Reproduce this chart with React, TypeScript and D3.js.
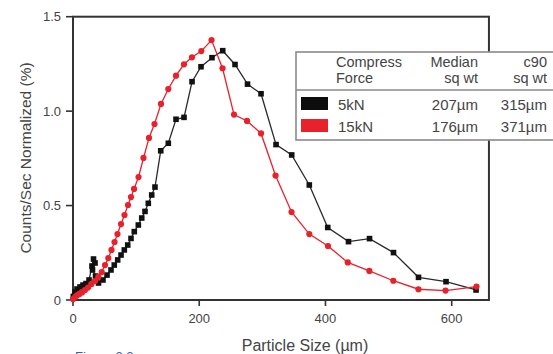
import React from "react";
import * as d3 from "d3";

const xTicks = [0, 200, 400, 600];
const yTicks = [0, 0.5, 1.0, 1.5];
const yTickLabels = ["0", "0.5", "1.0", "1.5"];

const redX = [0, 3.2, 6.3, 10.3, 14.3, 19.0, 23.8, 29.3, 34.9, 40.1, 45.5, 50.7, 55.9, 61.0, 65.8, 70.5, 76.1, 81.6, 87.1, 91.9, 96.7, 103.8, 111.7, 120.4, 129.1, 139.4, 151.0, 163.2, 175.8, 188.5, 203.3, 219.5, 236.9, 255.1, 275.7, 297.9, 320.9, 346.2, 374.4, 404.0, 435.3, 469.5, 507.5, 547.4, 590.2, 639.3];
const redY = [0.005, 0.016, 0.024, 0.032, 0.040, 0.053, 0.066, 0.085, 0.101, 0.122, 0.148, 0.185, 0.222, 0.265, 0.307, 0.349, 0.402, 0.450, 0.503, 0.545, 0.588, 0.651, 0.752, 0.858, 0.932, 1.038, 1.117, 1.188, 1.248, 1.285, 1.318, 1.376, 1.227, 0.982, 0.948, 0.882, 0.659, 0.466, 0.349, 0.286, 0.199, 0.154, 0.102, 0.057, 0.050, 0.071];

const blackX = [0.5, 3.2, 6.3, 11.1, 15.8, 20.6, 25.4, 30.1, 32.5, 34.9, 30.9, 35.7, 40.4, 47.5, 53.9, 60.2, 65.4, 70.8, 76.1, 81.3, 86.7, 91.9, 97.1, 103.5, 108.9, 114.1, 119.3, 124.7, 129.9, 139.0, 151.0, 163.2, 175.9, 188.6, 202.8, 220.2, 237.2, 256.7, 276.5, 297.9, 321.7, 346.5, 374.4, 403.6, 436.5, 469.8, 507.8, 547.4, 591.0, 638.6];
const blackY = [0.019, 0.042, 0.058, 0.069, 0.079, 0.087, 0.106, 0.180, 0.217, 0.196, 0.159, 0.127, 0.090, 0.106, 0.132, 0.159, 0.185, 0.212, 0.238, 0.265, 0.291, 0.326, 0.362, 0.397, 0.434, 0.469, 0.512, 0.556, 0.598, 0.790, 0.830, 0.957, 0.967, 1.156, 1.235, 1.283, 1.320, 1.247, 1.143, 1.092, 0.823, 0.768, 0.609, 0.384, 0.309, 0.325, 0.251, 0.120, 0.097, 0.053];

const legendHeader = [["Compress", "Force"], ["Median", "sq wt"], ["c90", "sq wt"]];
const legendRows = [
  { name: "5kN", median: "207µm", c90: "315µm", color: "#0d0d0d" },
  { name: "15kN", median: "176µm", c90: "371µm", color: "#e8212b" },
];

const RED = "#e8212b";
const BLACK = "#111111";
const AXIS = "#333333";
const TEXT = "#444444";
const FONT = "'Liberation Sans', Arial, sans-serif";

export default function App() {
  const x = d3.scaleLinear().domain([0, 600]).range([73, 451.7]);
  const y = d3.scaleLinear().domain([0, 1.5]).range([300, 16.7]);
  const xMax = 659;

  const redData = redX.map((v, i) => [v, redY[i]] as [number, number]);
  const blackData = blackX.map((v, i) => [v, blackY[i]] as [number, number]);
  const line = d3
    .line<[number, number]>()
    .x((d) => x(d[0]))
    .y((d) => y(d[1]));

  return (
    <svg
      width={553}
      height={354}
      style={{ position: "absolute", left: 0, top: 0, background: "#fff" }}
      fontFamily={FONT}
    >
      <rect width={553} height={354} fill="#fff" />
      {/* frame */}
      <rect
        x={x(0)}
        y={y(1.5)}
        width={x(xMax) - x(0)}
        height={y(0) - y(1.5)}
        fill="none"
        stroke={AXIS}
        strokeWidth={2}
      />
      {/* y ticks */}
      {yTicks.map((t, i) => (
        <g key={"y" + i}>
          <line x1={x(0) - 7} x2={x(0)} y1={y(t)} y2={y(t)} stroke={AXIS} strokeWidth={1.6} />
          <text x={x(0) - 12} y={y(t) + 4.5} textAnchor="end" fontSize={13} fill={TEXT}>
            {yTickLabels[i]}
          </text>
        </g>
      ))}
      {/* x ticks */}
      {xTicks.map((t, i) => (
        <g key={"x" + i}>
          <line x1={x(t)} x2={x(t)} y1={y(0)} y2={y(0) + 6} stroke={AXIS} strokeWidth={1.6} />
          <text x={x(t)} y={y(0) + 23} textAnchor="middle" fontSize={13} fill={TEXT}>
            {t}
          </text>
        </g>
      ))}
      {/* axis titles */}
      <text x={305} y={351} textAnchor="middle" fontSize={16} fill={TEXT}>
        Particle Size (µm)
      </text>
      <text
        transform={`translate(31,158) rotate(-90)`}
        textAnchor="middle"
        fontSize={15.5}
        fill={TEXT}
      >
        Counts/Sec Normalized (%)
      </text>
      <text x={75} y={361} fontSize={13} fill="#3b5bb5">
        Figure 3.3
      </text>

      {/* series */}
      <path d={line(blackData) || ""} fill="none" stroke="#2a2a2a" strokeWidth={1.3} />
      <path d={line(redData) || ""} fill="none" stroke={RED} strokeWidth={1.3} />
      {blackData.map((d, i) => (
        <rect key={"b" + i} x={x(d[0]) - 2.8} y={y(d[1]) - 2.8} width={5.6} height={5.6} fill={BLACK} />
      ))}
      {redData.map((d, i) => (
        <circle key={"r" + i} cx={x(d[0])} cy={y(d[1])} r={3.1} fill={RED} />
      ))}

      {/* legend */}
      <g>
        <rect x={296} y={52} width={270} height={88} fill="#fff" stroke="#8a8a8a" strokeWidth={1.6} />
        <line x1={296} x2={560} y1={90} y2={90} stroke="#8a8a8a" strokeWidth={1.6} />
        <text x={336} y={67} fontSize={14.5} fill={TEXT}>{legendHeader[0][0]}</text>
        <text x={336} y={83} fontSize={14.5} fill={TEXT}>{legendHeader[0][1]}</text>
        <text x={478} y={67} fontSize={14.5} fill={TEXT} textAnchor="end">{legendHeader[1][0]}</text>
        <text x={478} y={83} fontSize={14.5} fill={TEXT} textAnchor="end">{legendHeader[1][1]}</text>
        <text x={547} y={67} fontSize={14.5} fill={TEXT} textAnchor="end">{legendHeader[2][0]}</text>
        <text x={547} y={83} fontSize={14.5} fill={TEXT} textAnchor="end">{legendHeader[2][1]}</text>
        {legendRows.map((r, i) => (
          <g key={"l" + i}>
            <rect x={301} y={97 + i * 22} width={27} height={13} fill={r.color} />
            <text x={338} y={109.5 + i * 22.5} fontSize={15} fill={TEXT}>{r.name}</text>
            <text x={478} y={109.5 + i * 22.5} fontSize={15} fill={TEXT} textAnchor="end">{r.median}</text>
            <text x={547} y={109.5 + i * 22.5} fontSize={15} fill={TEXT} textAnchor="end">{r.c90}</text>
          </g>
        ))}
      </g>
    </svg>
  );
}
